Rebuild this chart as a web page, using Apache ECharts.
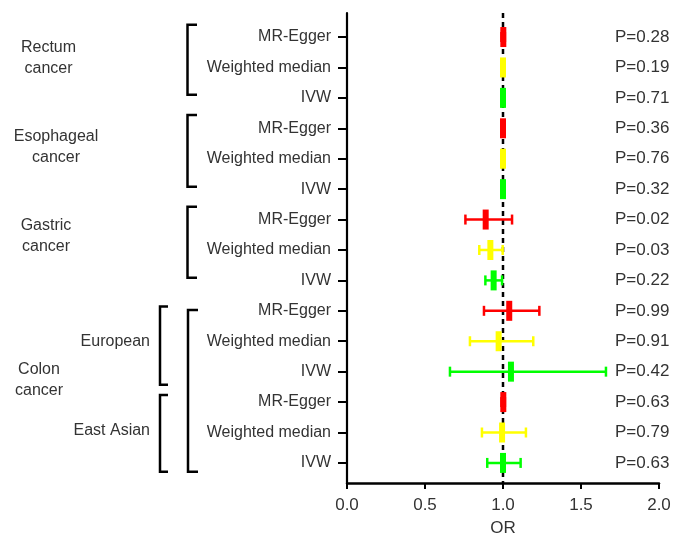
<!DOCTYPE html>
<html>
<head>
<meta charset="utf-8">
<script src="https://cdn.jsdelivr.net/npm/echarts@6/dist/echarts.min.js"></script>
<style>
html,body{margin:0;padding:0;background:#fff;}
#chart{width:673px;height:536px;}
</style>
</head>
<body>
<div id="chart"></div>
<script>
// ---- data ----
const methods = ['MR-Egger','Weighted median','IVW','MR-Egger','Weighted median','IVW','MR-Egger','Weighted median','IVW','MR-Egger','Weighted median','IVW','MR-Egger','Weighted median','IVW'];
const orValues = [1.002,1.000,1.000, 1.000,1.000,1.000, 0.889,0.919,0.940, 1.040,0.972,1.051, 1.002,0.994,1.000];
const ciLower  = [0.990,0.990,0.990, 0.990,0.990,0.990, 0.759,0.848,0.887, 0.878,0.788,0.660, 0.990,0.865,0.899];
const ciUpper  = [1.012,1.010,1.010, 1.010,1.010,1.010, 1.058,0.998,0.994, 1.233,1.194,1.660, 1.012,1.147,1.113];
const pValues  = ['P=0.28','P=0.19','P=0.71','P=0.36','P=0.76','P=0.32','P=0.02','P=0.03','P=0.22','P=0.99','P=0.91','P=0.42','P=0.63','P=0.79','P=0.63'];
const xTicks = [0, 0.5, 1.0, 1.5, 2.0];
const groupLabels = ['Rectum\ncancer','Esophageal\ncancer','Gastric\ncancer','Colon\ncancer','European','East Asian'];

// ---- styles / layout ----
const FONT = '"Liberation Sans", Arial, Helvetica, sans-serif';
const methodColor = {'MR-Egger':'#ff0000','Weighted median':'#ffff00','IVW':'#00ff00'};
const rows = methods.map((m,i)=>i);

const chart = echarts.init(document.getElementById('chart'), null, {renderer:'canvas'});

const seriesData = rows.map(i => [i, orValues[i], ciLower[i], ciUpper[i]]);

const option = {
  animation: false,
  backgroundColor: '#fff',
  grid: {left: 347, right: 14, top: 13, bottom: 53, containLabel: false, outerBoundsMode: 'none'},
  xAxis: {
    type: 'value', min: 0, max: 2, interval: 0.5,
    axisLine: {show: true, onZero: false, lineStyle: {color: '#000', width: 2.5}},
    axisTick: {show: true, length: 6, lineStyle: {color: '#000', width: 2}},
    axisLabel: {fontSize: 17, color: '#333', fontFamily: FONT, margin: 14, formatter: v => v.toFixed(1)},
    splitLine: {show: false},
    name: 'OR', nameLocation: 'middle', nameGap: 37,
    nameTextStyle: {fontSize: 17, color: '#333', fontFamily: FONT}
  },
  yAxis: {
    type: 'value', inverse: true, min: -0.79, max: 14.66,
    axisLine: {show: true, onZero: false, lineStyle: {color: '#000', width: 2.2}},
    axisTick: {show: true, customValues: rows, length: 9, lineStyle: {color: '#000', width: 2}},
    axisLabel: {show: true, customValues: rows, formatter: v => methods[Math.round(v)] || '', fontSize: 16, color: '#333', fontFamily: FONT, margin: 16},
    splitLine: {show: false}
  },
  series: [
    {
      type: 'line', silent: true, symbol: 'none', z: 1,
      data: [[1, -0.79], [1, 14.66]],
      lineStyle: {color: '#000', width: 2.5, type: [5, 4]}
    },
    {
      type: 'custom', z: 5, clip: false,
      data: seriesData,
      encode: {x: [1,2,3], y: 0},
      renderItem: function (params, api) {
        const row = api.value(0);
        const c = api.coord([api.value(1), row]);
        const l = api.coord([api.value(2), row]);
        const h = api.coord([api.value(3), row]);
        const col = methodColor[methods[row]];
        const lw = 2.5, capH = 10, mw = 6, mh = 20;
        return {
          type: 'group',
          children: [
            {type: 'line', shape: {x1: l[0], y1: c[1], x2: h[0], y2: c[1]}, style: {stroke: col, lineWidth: lw}},
            {type: 'line', shape: {x1: l[0], y1: c[1]-capH/2, x2: l[0], y2: c[1]+capH/2}, style: {stroke: col, lineWidth: lw}},
            {type: 'line', shape: {x1: h[0], y1: c[1]-capH/2, x2: h[0], y2: c[1]+capH/2}, style: {stroke: col, lineWidth: lw}},
            {type: 'rect', shape: {x: c[0]-mw/2, y: c[1]-mh/2, width: mw, height: mh}, style: {fill: col}}
          ]
        };
      }
    },
    {
      type: 'custom', z: 5, clip: false, silent: true,
      data: rows.map(i => [i]),
      encode: {y: 0},
      renderItem: function (params, api) {
        const row = api.value(0);
        const p = api.coord([2, row]);
        return {
          type: 'text',
          style: {text: pValues[row], x: p[0]-44, y: p[1], textAlign: 'left', textVerticalAlign: 'middle', font: '17px ' + FONT, fill: '#333'}
        };
      }
    }
  ]
};
chart.setOption(option);

// ---- group brackets & labels (layout in row units) ----
const bracketLayout = [
  {x0: 187.5, x1: 197, top: -0.40, bottom: 1.90},
  {x0: 187.5, x1: 197, top: 2.56, bottom: 4.92},
  {x0: 187.5, x1: 197, top: 5.58, bottom: 7.915},
  {x0: 188, x1: 198, top: 8.97, bottom: 14.29},
  {x0: 160, x1: 168, top: 8.86, bottom: 11.43},
  {x0: 160, x1: 168, top: 11.77, bottom: 14.29}
];
const labelLayout = [
  {x: 48.5, row: 0.68, align: 'center'},
  {x: 56, row: 3.62, align: 'center'},
  {x: 46, row: 6.55, align: 'center'},
  {x: 39, row: 11.27, align: 'center'},
  {x: 150, row: 10.02, align: 'right'},
  {x: 150, row: 12.95, align: 'right'}
];
function yPix(row){ return chart.convertToPixel({gridIndex: 0}, [0, row])[1]; }
const graphics = [];
bracketLayout.forEach(b => {
  const t = yPix(b.top), bt = yPix(b.bottom);
  graphics.push({type: 'polyline', silent: true, shape: {points: [[b.x1, t], [b.x0, t], [b.x0, bt], [b.x1, bt]]}, style: {stroke: '#000', lineWidth: 2.5, fill: null}});
});
labelLayout.forEach((l, i) => {
  graphics.push({type: 'text', silent: true, x: l.x, y: yPix(l.row), style: {text: groupLabels[i], textAlign: l.align, textVerticalAlign: 'middle', font: '16px ' + FONT, fill: '#333', lineHeight: 21}});
});
chart.setOption({graphic: graphics});
</script>
</body>
</html>
